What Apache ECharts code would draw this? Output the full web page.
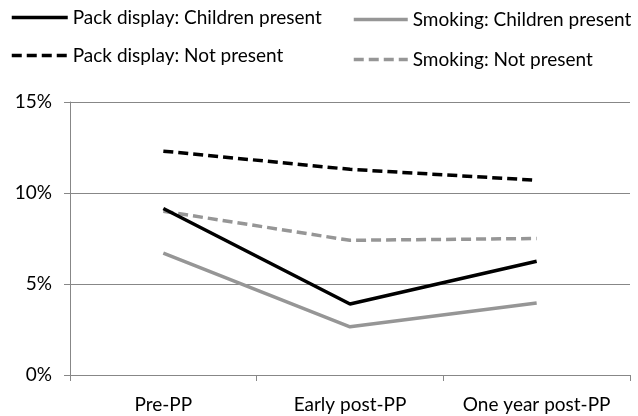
<!DOCTYPE html>
<html><head><meta charset="utf-8">
<script src="https://cdn.jsdelivr.net/npm/echarts@6/dist/echarts.min.js"></script>
<style>html,body{margin:0;padding:0;background:#fff}#c{width:638px;height:416px}</style>
</head><body><div id="c"></div>
<script>
const categories = ['Pre-PP', 'Early post-PP', 'One year post-PP'];
const packChildren = [9.15, 3.9, 6.25];
const packNotPresent = [12.3, 11.3, 10.7];
const smokingChildren = [6.7, 2.65, 3.95];
const smokingNotPresent = [9.0, 7.4, 7.5];
const yTicks = [0, 5, 10, 15];

const FONT = 'Lato';
const BLACK = '#000000', GRAY = '#969696';
const DASH = [10, 5];
function line(name, data, color, type) {
  return { name, type: 'line', data, symbol: 'none', showSymbol: false,
    lineStyle: { color, width: 3.5, type }, itemStyle: { color }, z: color === BLACK ? 3 : 2 };
}
function leg(name, left, top, w) {
  return { data: [name], left, top, itemWidth: w, itemHeight: 14, padding: 0,
    itemStyle: { opacity: 0 },
    lineStyle: { width: 3.5 },
    textStyle: { fontFamily: FONT, fontSize: 19, color: '#000' } };
}
const chart = echarts.init(document.getElementById('c'), null, { renderer: 'canvas' });
chart.setOption({
  animation: false,
  backgroundColor: '#fff',
  textStyle: { fontFamily: FONT },
  legend: [
    leg('Pack display: Children present', 10, 8, 56),
    leg('Pack display: Not present', 10, 46, 56),
    leg('Smoking: Children present', 352, 10, 54),
    leg('Smoking: Not present', 352, 50, 54)
  ],
  grid: { left: 70, right: 8, top: 102, bottom: 41, containLabel: false },
  xAxis: {
    type: 'category', data: categories, boundaryGap: true,
    axisLine: { lineStyle: { color: '#878787', width: 1 } },
    axisTick: { show: true, length: 6, lineStyle: { color: '#878787' } },
    axisLabel: { interval: 0, fontFamily: FONT, fontSize: 19, color: '#000', margin: 20 }
  },
  yAxis: {
    type: 'value', min: yTicks[0], max: yTicks[yTicks.length - 1], interval: 5,
    axisLine: { show: true, lineStyle: { color: '#878787', width: 1 } },
    axisTick: { show: true, length: 6, lineStyle: { color: '#878787' } },
    splitLine: { lineStyle: { color: '#878787', width: 1 } },
    axisLabel: { fontFamily: FONT, fontSize: 19, color: '#000', margin: 18, formatter: '{value}%' }
  },
  series: [
    line('Pack display: Children present', packChildren, BLACK, 'solid'),
    line('Pack display: Not present', packNotPresent, BLACK, DASH),
    line('Smoking: Children present', smokingChildren, GRAY, 'solid'),
    line('Smoking: Not present', smokingNotPresent, GRAY, DASH)
  ]
});
</script></body></html>
